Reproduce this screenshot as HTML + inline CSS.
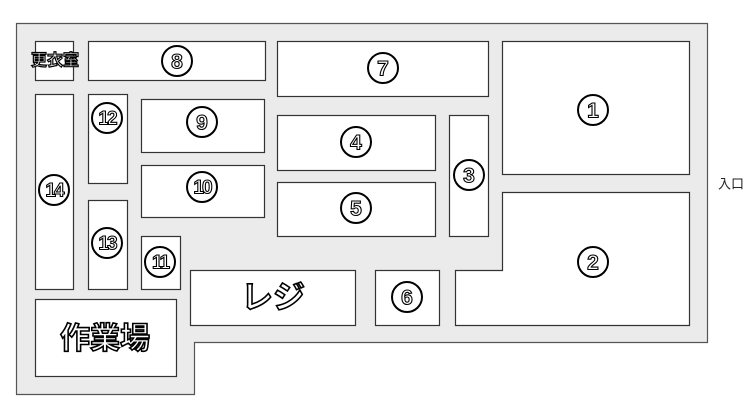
<!DOCTYPE html>
<html><head><meta charset="utf-8"><style>
html,body{margin:0;padding:0;background:#fff;width:754px;height:418px;overflow:hidden}
svg text{font-family:"Liberation Sans","Noto Sans CJK JP",sans-serif;font-weight:bold;text-anchor:middle;dominant-baseline:central}
.n{font-size:21px;fill:#fff;stroke:#000;stroke-width:1.1px}
.k{fill:#fff;stroke:#000;stroke-width:1.6px}
</style></head><body>
<svg width="754" height="418" viewBox="0 0 754 418" xmlns="http://www.w3.org/2000/svg">
<polygon points="16.5,23.5 707.5,23.5 707.5,342.5 194.5,342.5 194.5,394.5 16.5,394.5" fill="#ebebeb" stroke="#555" stroke-width="1.2"/>
<g fill="#fff" stroke="#333" stroke-width="1.2">
<rect x="35.5" y="41.5" width="38" height="39"/>
<rect x="88.5" y="41.5" width="177" height="39"/>
<rect x="277.5" y="41.5" width="211" height="55"/>
<rect x="502.5" y="41.5" width="187" height="133"/>
<polygon points="502.5,192.5 689.5,192.5 689.5,325.5 455.5,325.5 455.5,270.5 502.5,270.5"/>
<rect x="449.5" y="115.5" width="39" height="121"/>
<rect x="277.5" y="115.5" width="158" height="55"/>
<rect x="277.5" y="182.5" width="158" height="54"/>
<rect x="35.5" y="94.5" width="38" height="195"/>
<rect x="88.5" y="94.5" width="39" height="89"/>
<rect x="88.5" y="200.5" width="39" height="89"/>
<rect x="141.5" y="99.5" width="123" height="53"/>
<rect x="141.5" y="165.5" width="123" height="52"/>
<rect x="141.5" y="236.5" width="39" height="53"/>
<rect x="35.5" y="299.5" width="141" height="77"/>
<rect x="190.5" y="270.5" width="165" height="55"/>
<rect x="375.5" y="270.5" width="64" height="55"/>
</g>
<g fill="#fff" stroke="#000" stroke-width="2">
<circle cx="177" cy="61" r="15"/><circle cx="383" cy="68" r="15"/>
<circle cx="593" cy="110" r="15"/><circle cx="593" cy="262" r="15"/>
<circle cx="469" cy="175" r="15"/><circle cx="356" cy="142" r="15"/>
<circle cx="356" cy="208" r="15"/><circle cx="202" cy="122" r="15"/>
<circle cx="202" cy="187" r="15"/><circle cx="107" cy="118" r="15"/>
<circle cx="54" cy="190" r="15"/><circle cx="107" cy="243" r="15"/>
<circle cx="160" cy="262" r="15"/><circle cx="407" cy="297" r="15"/>
</g>
<g class="n">
<text x="177" y="62">8</text><text x="383" y="69">7</text>
<text x="593" y="111">1</text><text x="593" y="263">2</text>
<text x="469" y="176">3</text><text x="356" y="143">4</text>
<text x="356" y="209">5</text><text x="202" y="123">9</text>
<text x="202" y="188" style="font-size:19px;letter-spacing:-2px">10</text>
<text x="107" y="119" style="font-size:19px;letter-spacing:-2px">12</text>
<text x="54" y="191" style="font-size:19px;letter-spacing:-2px">14</text>
<text x="107" y="244" style="font-size:19px;letter-spacing:-2px">13</text>
<text x="160" y="263" style="font-size:19px;letter-spacing:-2px">11</text>
<text x="407" y="298">6</text>
</g>
<text class="k" x="55" y="61" style="font-size:16px;stroke-width:1.2px">更衣室</text>
<text class="k" x="105" y="339" style="font-size:30px">作業場</text>
<text class="k" x="273" y="297" style="font-size:32px">レジ</text>
<text x="731" y="184" style="font-size:13px;font-weight:normal;fill:#222">入口</text>
</svg>
</body></html>
